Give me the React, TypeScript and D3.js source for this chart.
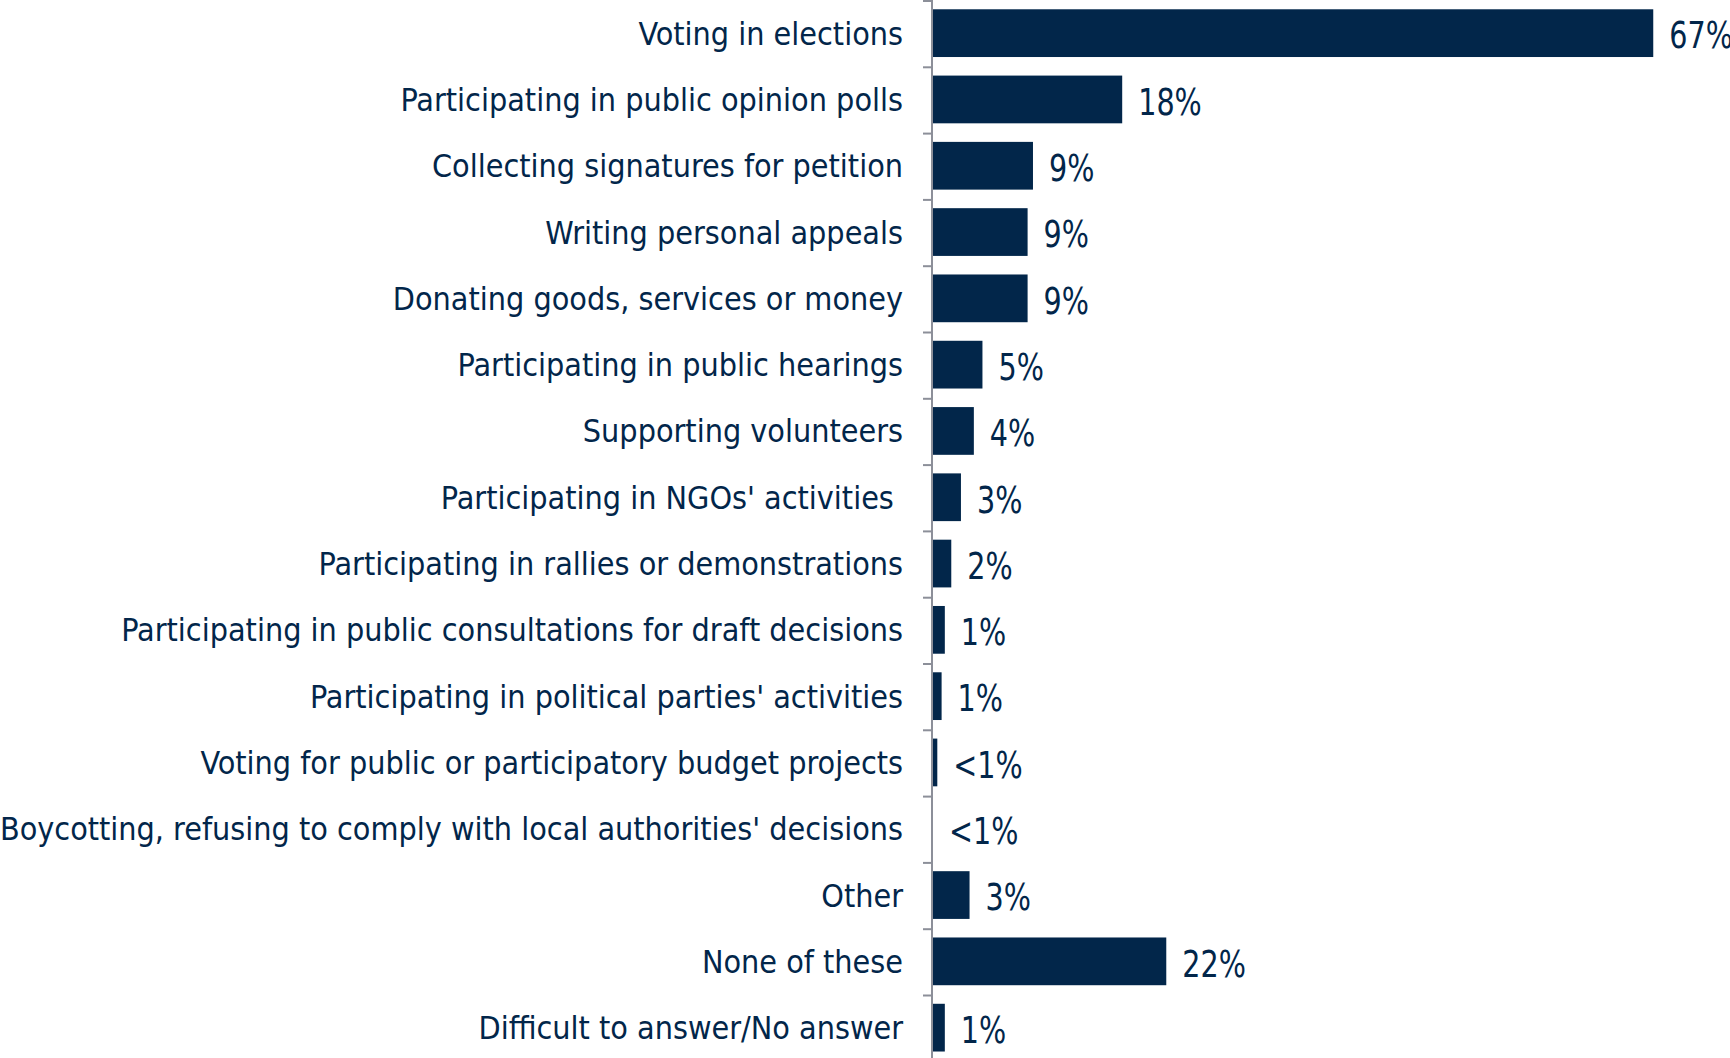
import React from "react";
import * as d3 from "d3";

const categories = [
  "Voting in elections",
  "Participating in public opinion polls",
  "Collecting signatures for petition",
  "Writing personal appeals",
  "Donating goods, services or money",
  "Participating in public hearings",
  "Supporting volunteers",
  "Participating in NGOs' activities ",
  "Participating in rallies or demonstrations",
  "Participating in public consultations for draft decisions",
  "Participating in political parties' activities",
  "Voting for public or participatory budget projects",
  "Boycotting, refusing to comply with local authorities' decisions",
  "Other",
  "None of these",
  "Difficult to answer/No answer",
];

const values = [67.0, 17.6, 9.3, 8.8, 8.8, 4.6, 3.8, 2.6, 1.7, 1.1, 0.8, 0.4, 0.0, 3.4, 21.7, 1.1];

const valueLabels = ["67%", "18%", "9%", "9%", "9%", "5%", "4%", "3%", "2%", "1%", "1%", "<1%", "<1%", "3%", "22%", "1%"];

const W = 1730;
const H = 1058;
const AXIS_X = 932;
const NAVY = "#02264a";

export default function App() {
  const y = d3
    .scaleBand<string>()
    .domain(categories)
    .range([0, 66.3 * categories.length])
    .paddingInner(0.28)
    .paddingOuter(0.14);
  const x = d3.scaleLinear().domain([0, 100]).range([AXIS_X + 1, AXIS_X + 1 + 1075]);
  const step = y.step();

  return (
    <div style={{ position: "fixed", left: 0, top: 0 }}>
      <svg width={W} height={H} style={{ display: "block", background: "#fff" }}>
        {categories.map((c, i) => {
          const yy = y(c)!;
          const cy = yy + y.bandwidth() / 2;
          return (
            <g key={c}>
              <rect x={x(0)} y={yy} width={Math.max(0, x(values[i]) - x(0))} height={y.bandwidth()} fill={NAVY} />
              <text
                x={903}
                y={cy}
                dy="0.36em"
                textAnchor="end"
                fontFamily="'DejaVu Sans Condensed', 'DejaVu Sans', sans-serif"
                fontSize={32}
                fill={NAVY}
                style={{ whiteSpace: "pre" }}
              >
                {c}
              </text>
              <text
                transform={`translate(${x(values[i]) + 16},${cy + 2}) scale(0.86,1)`}
                dy="0.36em"
                fontFamily="'DejaVu Sans Condensed', sans-serif"
                fontSize={37}
                fill={NAVY}
              >
                {valueLabels[i]}
              </text>
            </g>
          );
        })}
        <line x1={AXIS_X} x2={AXIS_X} y1={0} y2={H} stroke="#8c8f99" strokeWidth={2} />
        {d3.range(categories.length + 1).map((i) => (
          <line key={i} x1={AXIS_X - 9} x2={AXIS_X} y1={i * step + 1} y2={i * step + 1} stroke="#8c8f99" strokeWidth={2} />
        ))}
      </svg>
    </div>
  );
}
